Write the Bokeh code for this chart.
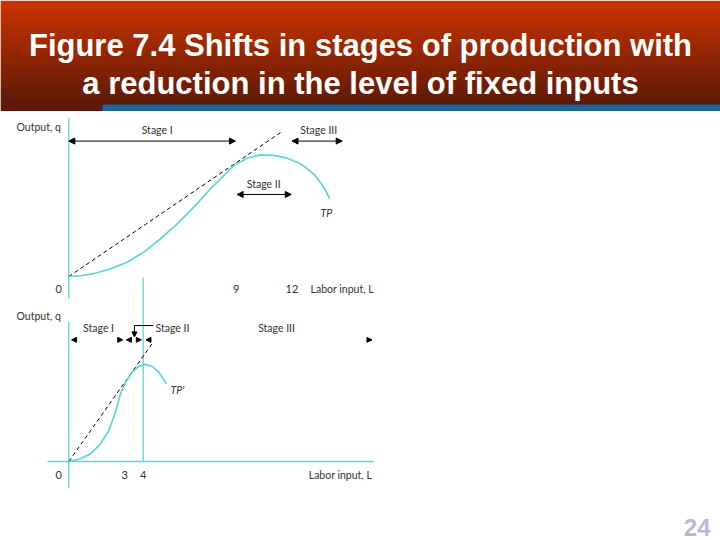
from bokeh.plotting import figure
from bokeh.models import Range1d, Arrow, NormalHead, ColumnDataSource, GlobalInlineStyleSheet
from bokeh.core.properties import value
from bokeh.embed import file_html
from bokeh.resources import INLINE

# ---------------- data ----------------
title_lines = ["Figure 7.4 Shifts in stages of production with",
               "a reduction in the level of fixed inputs"]
slide_number = ["24"]

# original total product curve TP (labor L, output q)
tp_L = [0, 0.63, 1.34, 2.24, 3.14, 4.03, 4.93, 5.83, 6.72, 7.62, 8.16, 8.87,
        9.59, 10.31, 11.02, 11.74, 12.46, 13.17, 13.71, 14.03]
tp_q = [0, 0.4, 1.5, 4.1, 7.7, 13.1, 20.3, 28.3, 37.3, 47.2, 52.5, 59.7,
        63.6, 65.4, 65.1, 63.6, 60.6, 55.2, 48.0, 41.8]
# total product with fewer fixed inputs TP'
tp2_L = [0, 0.63, 1.17, 1.70, 2.15, 2.51, 2.78, 3.05, 3.41, 3.76, 4.12, 4.48, 4.84, 5.25]
tp2_q = [0, 1.5, 4.1, 9.5, 16.7, 26.5, 36.4, 42.6, 48.0, 51.1, 52.2, 51.1, 48.0, 41.8]

# rays from the origin (max average product)
ray_top_L = [0, 11.4]
ray_top_q = [0, 77.5]
ray_bot_L = [0, 4.48]
ray_bot_q = [0, 63.4]

top_ticks = [0, 9, 12]
bot_ticks = [0, 3, 4]
stage_names = ["Stage I", "Stage II", "Stage III"]
top_stage_from = [0, 9.05, 12.0]
top_stage_to = [8.96, 11.96, 14.7]
bot_stage_from = [0.15, 3.1, 4.15]
bot_stage_to = [2.9, 3.9, 16.3]

# ---------------- layout / style constants ----------------
W, H = 720, 540
X0, PX_L = 68.3, 18.6          # page x of L=0, pixels per unit of L
PX_Q = 1.86                    # pixels per unit of q
Y0_TOP, Y0_BOT = 276.0, 461.0  # page y of q=0 in each diagram
CYAN = "#5DD5DA"
INK = "#333333"
FONT = value("Lato")
FS = "10.5px"

p = figure(width=W, height=H, x_range=Range1d(0, W), y_range=Range1d(H, 0),
           x_axis_type=None, y_axis_type=None, output_backend="svg",
           toolbar_location=None, min_border=0, outline_line_color=None)
p.grid.visible = False
p.background_fill_color = "white"
p.border_fill_color = "white"
p.stylesheets = [GlobalInlineStyleSheet(css="html, body { margin: 0 !important; padding: 0; overflow: hidden; }")]

p.extra_x_ranges = {"L": Range1d(-X0 / PX_L, (W - X0) / PX_L)}
p.extra_y_ranges = {"qt": Range1d((Y0_TOP - H) / PX_Q, Y0_TOP / PX_Q),
                    "qb": Range1d((Y0_BOT - H) / PX_Q, Y0_BOT / PX_Q)}

# ---------------- banner ----------------
BANNER_H = 110
n_bands = 55
c0, c1 = (202, 52, 0), (88, 24, 8)
tops, bots, cols = [], [], []
for i in range(n_bands):
    t = i / (n_bands - 1)
    rgb = tuple(int(round(a + (b - a) * t)) for a, b in zip(c0, c1))
    tops.append(i * BANNER_H / n_bands)
    bots.append((i + 1) * BANNER_H / n_bands + 0.6)
    cols.append("#%02x%02x%02x" % rgb)
p.quad(left=0, right=W, top=tops, bottom=bots, fill_color=cols, line_color=None)
p.quad(left=[102], right=[W], top=[104], bottom=[110.5], fill_color="#1B659A", line_color=None)
p.text(x=[W / 2, W / 2], y=[45, 82.5], text=title_lines, text_align="center",
       text_baseline="alphabetic", text_font=value("Liberation Sans"),
       text_font_style="bold", text_font_size="31px", text_color="white")

# slide number
p.text(x=[710], y=[527], text=slide_number, text_align="right", text_baseline="alphabetic",
       text_font=value("Liberation Sans"), text_font_style="bold",
       text_font_size="24px", text_color="#B6B8D4")

# ---------------- top diagram ----------------
kt = dict(x_range_name="L", y_range_name="qt")
p.segment(x0=[0], y0=[84.9], x1=[0], y1=[-11.8], line_color=CYAN, line_width=1.3, **kt)
p.line(ray_top_L, ray_top_q, line_color="black", line_width=1, line_dash="4 3", **kt)
p.line(tp_L, tp_q, line_color=CYAN, line_width=1.7, **kt)

top_src = ColumnDataSource(dict(x0=top_stage_from, x1=top_stage_to, y=[72.8, 44.1, 72.8]))
p.add_layout(Arrow(source=top_src, x_start="x0", y_start="y", x_end="x1", y_end="y",
                   start=NormalHead(size=6, fill_color="black", line_color="black", line_width=1),
                   end=NormalHead(size=6, fill_color="black", line_color="black", line_width=1),
                   line_color="black", line_width=1, **kt))
p.text(x=[4.75, 10.48, 13.44], y=[78.5, 49.8, 78.5], text=stage_names, text_align="center",
       text_baseline="middle", text_font=FONT, text_font_size=FS, text_color=INK, **kt)
p.text(x=[13.85], y=[34.2], text=["TP"], text_align="center", text_baseline="middle",
       text_font=FONT, text_font_style="italic", text_font_size=FS, text_color=INK, **kt)
p.text(x=[-2.81], y=[80.6], text=["Output, q"], text_align="left", text_baseline="middle",
       text_font=FONT, text_font_size=FS, text_color=INK, **kt)
p.text(x=top_ticks, y=[-6.6] * len(top_ticks), text=[str(t) for t in top_ticks],
       x_offset=[-10, 0, 0], text_align="center", text_baseline="middle",
       text_font=FONT, text_font_size="11px", text_color=INK, **kt)
p.text(x=[13.0], y=[-6.6], text=["Labor input, L"], text_align="left", text_baseline="middle",
       text_font=FONT, text_font_size=FS, text_color=INK, **kt)

# ---------------- bottom diagram ----------------
kb = dict(x_range_name="L", y_range_name="qb")
p.segment(x0=[0, -1.15, 4], y0=[75.3, 0, 98.9], x1=[0, 16.4, 4], y1=[-14.5, 0, 0],
          line_color=CYAN, line_width=1.3, **kb)
p.line(ray_bot_L, ray_bot_q, line_color="black", line_width=1, line_dash="4 3", **kb)
p.line(tp2_L, tp2_q, line_color=CYAN, line_width=1.7, **kb)

bot_src = ColumnDataSource(dict(x0=bot_stage_from, x1=bot_stage_to, y=[65.4] * 3))
p.add_layout(Arrow(source=bot_src, x_start="x0", y_start="y", x_end="x1", y_end="y",
                   start=NormalHead(size=5, fill_color="black", line_color="black", line_width=1),
                   end=NormalHead(size=5, fill_color="black", line_color="black", line_width=1),
                   line_color="black", line_alpha=0, line_width=1, **kb))
# leader line for "Stage II"
p.segment(x0=[4.55], y0=[73.1], x1=[3.53], y1=[73.1], line_color="black", line_width=1, **kb)
p.add_layout(Arrow(x_start=3.53, y_start=73.1, x_end=3.53, y_end=67.0,
                   end=NormalHead(size=5, fill_color="black", line_color="black", line_width=1),
                   line_color="black", line_width=1, **kb))
p.text(x=[1.6, 11.17], y=[72, 72], text=[stage_names[0], stage_names[2]], text_align="center",
       text_baseline="middle", text_font=FONT, text_font_size=FS, text_color=INK, **kb)
p.text(x=[4.66], y=[72], text=[stage_names[1]], text_align="left",
       text_baseline="middle", text_font=FONT, text_font_size=FS, text_color=INK, **kb)
p.text(x=[5.47], y=[38.5], text=["TP'"], text_align="left", text_baseline="middle",
       text_font=FONT, text_font_style="italic", text_font_size=FS, text_color=INK, **kb)
p.text(x=[-2.81], y=[78.0], text=["Output, q"], text_align="left", text_baseline="middle",
       text_font=FONT, text_font_size=FS, text_color=INK, **kb)
p.text(x=bot_ticks, y=[-7.0] * len(bot_ticks), text=[str(t) for t in bot_ticks],
       x_offset=[-10, 0, 0], text_align="center", text_baseline="middle",
       text_font=FONT, text_font_size="11px", text_color=INK, **kb)
p.text(x=[12.9], y=[-7.0], text=["Labor input, L"], text_align="left", text_baseline="middle",
       text_font=FONT, text_font_size=FS, text_color=INK, **kb)

open("out.html", "w").write(file_html(p, INLINE))
